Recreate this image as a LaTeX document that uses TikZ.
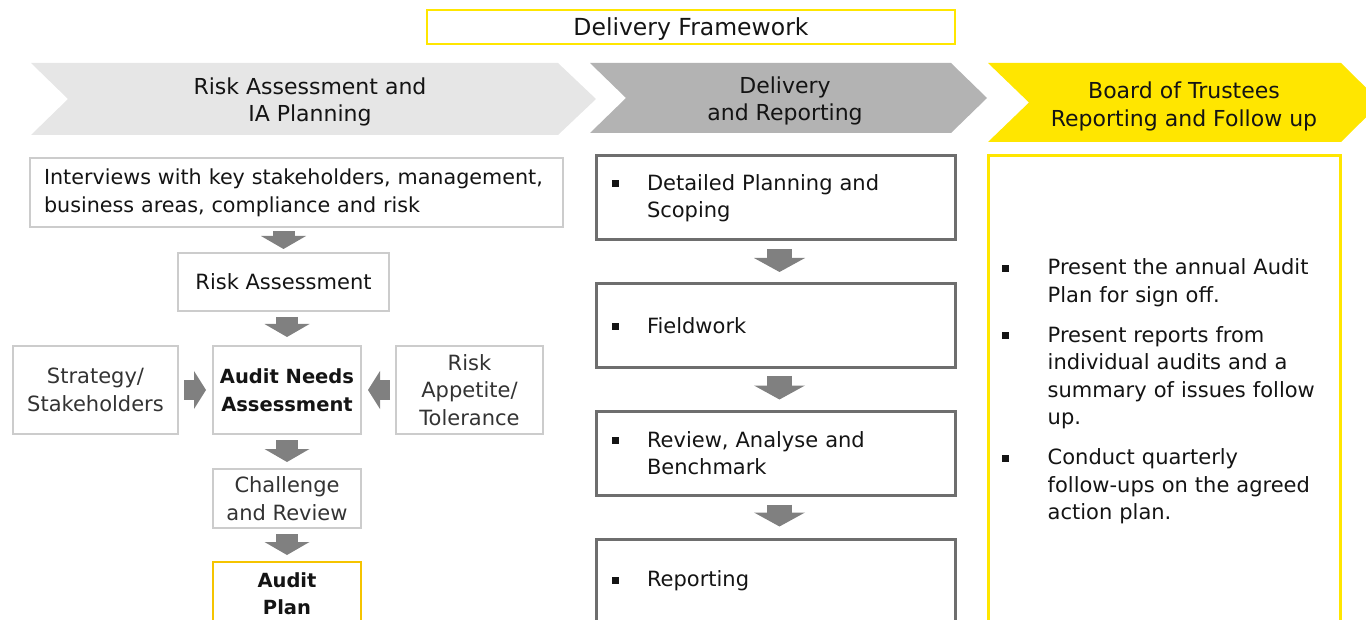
\documentclass[tikz,border=0pt]{standalone}
\usepackage{fontspec}
\setmainfont{DejaVu Sans}
\usetikzlibrary{arrows.meta,positioning}

\definecolor{eyyellow}{HTML}{FFE600}
\definecolor{chevlight}{HTML}{E6E6E6}
\definecolor{chevdark}{HTML}{B3B3B3}
\definecolor{boxline}{HTML}{CCCCCC}
\definecolor{boxdark}{HTML}{6E6E6E}
\definecolor{blkgray}{HTML}{808080}
\definecolor{planline}{HTML}{F5C400}
\definecolor{inktext}{HTML}{141414}
\definecolor{softtext}{HTML}{333333}

\newcommand{\sqbul}{\rule[3pt]{7pt}{7pt}}
\newcommand{\bitem}[2]{\noindent\hangindent=#1\hangafter=1\makebox[#1][l]{\sqbul}#2\par}

\begin{document}
\begin{tikzpicture}[x=1pt,y=-1pt,
  txt/.style={font=\fontsize{21}{27.5}\selectfont, text=inktext},
  lbox/.style={txt, draw=boxline, line width=2pt, inner sep=0pt, align=center},
  softbox/.style={lbox, text=softtext},
  mbox/.style={txt, draw=boxdark, line width=3pt, inner sep=0pt, minimum width=359pt, minimum height=84pt, text width=327pt},
  chevtext/.style={txt, align=center, font=\fontsize{22}{27.5}\selectfont},
  lblk/.style={blkgray, line width=22pt, -{Triangle[width=45pt,length=13pt,line width=0pt]}, shorten <=5pt, shorten >=6pt},
  mblk/.style={blkgray, line width=25pt, -{Triangle[width=51pt,length=14pt,line width=0pt]}, shorten <=8pt, shorten >=10pt},
  hblk/.style={blkgray, line width=20pt, -{Triangle[width=38pt,length=12pt,line width=0pt]}, shorten <=5pt, shorten >=6pt}]
\useasboundingbox (0,0) rectangle (1366,620);

% header
\node[txt, draw=eyyellow, line width=2pt, minimum width=528pt, minimum height=34pt, inner sep=0pt, text depth=0pt, font=\fontsize{23.5}{25}\selectfont] (dfw) at (691,27) {Delivery Framework};

% chevrons
\fill[chevlight] (31,63) -- (558,63) -- (596,99) -- (558,135) -- (31,135) -- (68,99) -- cycle;
\fill[chevdark] (590,63) -- (951,63) -- (987,98) -- (951,133) -- (590,133) -- (626,98) -- cycle;
\fill[eyyellow] (988,63) -- (1341,63) -- (1381,102.5) -- (1341,142) -- (988,142) -- (1029,102.5) -- cycle;
\node[chevtext] (chra) at (310,102) {Risk Assessment and\\IA Planning};
\node[chevtext] (chdr) at (785,101) {Delivery\\and Reporting};
\node[chevtext] (chbt) at (1184,106.5) {Board of Trustees\\Reporting and Follow up};

% risk assessment and planning
\node[lbox, minimum width=533pt, minimum height=69pt, text width=505pt, align=left, font=\fontsize{20.7}{27.5}\selectfont] (intv) at (296.5,193)
  {Interviews with key stakeholders, management,\\ business areas, compliance and risk};
\node[lbox, minimum width=211pt, minimum height=58pt] (ra) at (283.5,282) {Risk Assessment};
\node[softbox, minimum width=165pt, minimum height=88pt] (strat) at (95.5,390) {Strategy/\\Stakeholders};
\node[lbox, minimum width=148pt, minimum height=88pt, font=\bfseries\fontsize{19.5}{27.5}\selectfont] (ana) at (287,390) {Audit Needs\\Assessment};
\node[softbox, minimum width=147pt, minimum height=88pt] (rat) at (469.5,390) {Risk\\Appetite/\\Tolerance};
\node[softbox, minimum width=148pt, minimum height=59pt] (cr) at (287,498.5) {Challenge\\and Review};
\node[lbox, draw=planline, minimum width=148pt, minimum height=63pt, font=\bfseries\fontsize{19.5}{27.5}\selectfont] (ap) at (287,593.5) {Audit\\Plan};

\draw[lblk, shorten <=3pt, shorten >=3pt] (intv.south -| ra.north) -- (ra.north);
\draw[lblk, shorten >=8pt] (ra.south -| ana.north) -- (ana.north);
\draw[lblk] (ana.south) -- (cr.north);
\draw[lblk] (cr.south) -- (ap.north);
\draw[hblk] (strat.east) -- (ana.west);
\draw[hblk] (rat.west) -- (ana.east);

% delivery and reporting
\node[mbox] (dps) at (775.5,198) {\bitem{35pt}{Detailed Planning and\newline Scoping}};
\node[mbox] (fw) at (775.5,325.5) {\bitem{35pt}{Fieldwork}};
\node[mbox] (rab) at (775.5,453) {\bitem{35pt}{Review, Analyse and\newline Benchmark}};
\node[mbox] (rep) at (775.5,581) {\bitem{35pt}{Reporting}};

\draw[mblk] ([xshift=4pt]dps.south) -- ([xshift=4pt]fw.north);
\draw[mblk, shorten <=7pt] ([xshift=4pt]fw.south) -- ([xshift=4pt]rab.north);
\draw[mblk, shorten >=11pt] ([xshift=4pt]rab.south) -- ([xshift=4pt]rep.north);

% board of trustees
\node[draw=eyyellow, line width=3pt, minimum width=352pt, minimum height=484pt, inner sep=0pt] (rbox) at (1164,398) {};
\node[txt, text width=330pt, inner sep=0pt, anchor=north west] (rtext) at ([xshift=15pt,yshift=-104pt]rbox.north west)
  {\setlength{\parskip}{12.5pt}%
   \bitem{46pt}{Present the annual Audit\newline Plan for sign off.}%
   \bitem{46pt}{Present reports from\newline individual audits and a\newline summary of issues follow\newline up.}%
   \bitem{46pt}{Conduct quarterly\newline follow-ups on the agreed\newline action plan.}};
\end{tikzpicture}
\end{document}
